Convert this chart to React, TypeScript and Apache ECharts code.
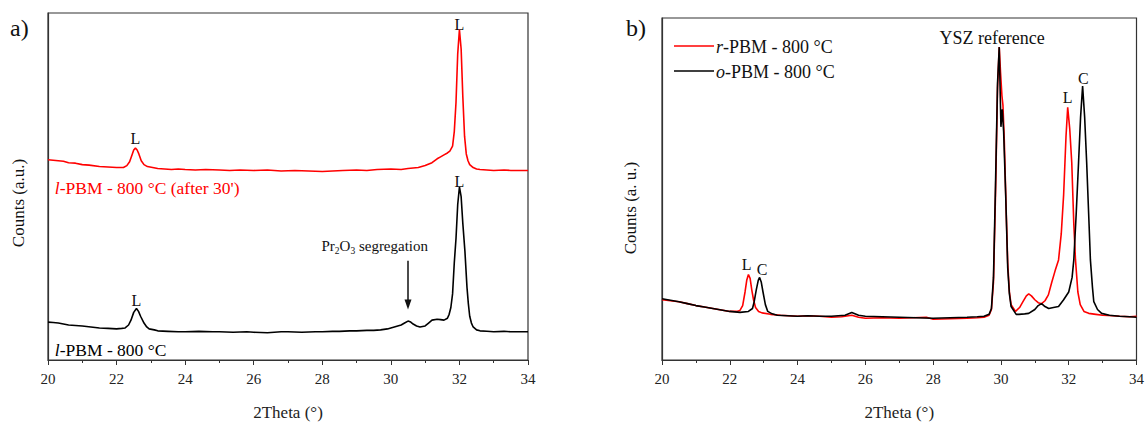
import React, { useEffect, useRef } from "react";
import * as echarts from "echarts";

// ---------- Data (2Theta in degrees, counts in arbitrary units) ----------
const xTicks = [20, 22, 24, 26, 28, 30, 32, 34];

// Panel a) l-PBM - 800 °C (after 30')  (red, offset trace)
const aRed: [number, number][] = [
  [20.0, 206], [20.15, 205.5], [20.3, 205], [20.45, 204.5], [20.6, 203], [20.8, 202.5], [21.0, 201], [21.2, 200.5],
  [21.5, 199], [21.75, 198.5], [22.0, 198], [22.2, 198], [22.3, 200], [22.38, 204], [22.45, 211], [22.5, 216],
  [22.55, 218], [22.6, 216], [22.65, 212], [22.72, 205], [22.8, 201], [22.9, 199], [23.05, 198], [23.2, 197],
  [23.4, 196.5], [23.6, 196], [23.8, 196.5], [24.0, 196], [24.3, 195.5], [24.6, 196], [25.0, 195.5], [25.3, 195],
  [25.6, 195.5], [26.0, 195], [26.4, 195.5], [26.8, 194.5], [27.2, 195], [27.6, 194.5], [28.0, 194], [28.3, 194.5],
  [28.6, 195], [29.0, 195.5], [29.3, 195], [29.6, 196], [30.0, 196.5], [30.3, 196], [30.5, 197], [30.8, 198],
  [31.0, 200], [31.2, 203], [31.35, 207], [31.45, 209], [31.55, 211], [31.65, 213], [31.72, 215], [31.8, 220],
  [31.85, 235], [31.9, 265], [31.95, 315], [32.0, 340], [32.05, 320], [32.1, 270], [32.15, 230], [32.2, 212],
  [32.25, 205], [32.3, 201], [32.4, 198], [32.5, 196.5], [32.6, 196], [32.8, 195.5], [33.0, 195], [33.3, 195.5],
  [33.5, 195], [33.8, 195], [34.0, 195],
];

// Panel a) l-PBM - 800 °C  (black)
const aBlack: [number, number][] = [
  [20.0, 39], [20.15, 38.5], [20.3, 38], [20.45, 37], [20.6, 36], [20.8, 35.5], [21.0, 35], [21.25, 34],
  [21.5, 33], [21.75, 32.5], [22.0, 32], [22.15, 32.5], [22.25, 33], [22.35, 36], [22.42, 41], [22.5, 49],
  [22.58, 53], [22.64, 50], [22.7, 45], [22.8, 38], [22.88, 34], [22.95, 32], [23.1, 31], [23.2, 30],
  [23.5, 29.5], [23.8, 29], [24.0, 29], [24.4, 29.5], [24.8, 29], [25.0, 29], [25.4, 28.5], [25.8, 29],
  [26.0, 28.5], [26.4, 28], [26.8, 29], [27.0, 29], [27.4, 28.5], [27.8, 29], [28.0, 29], [28.3, 29.5],
  [28.5, 29.5], [28.8, 30], [29.0, 30], [29.3, 30.5], [29.5, 30.5], [29.7, 31], [29.9, 32], [30.1, 34],
  [30.3, 36], [30.4, 38], [30.5, 40], [30.58, 39], [30.65, 37], [30.75, 35], [30.85, 34], [31.0, 35],
  [31.1, 38], [31.2, 41], [31.35, 42], [31.45, 41.5], [31.55, 41], [31.65, 43], [31.7, 47], [31.75, 54],
  [31.8, 68], [31.85, 100], [31.9, 125], [31.95, 160], [32.0, 178], [32.05, 168], [32.1, 140], [32.16, 112],
  [32.22, 75], [32.26, 58], [32.3, 45], [32.35, 38], [32.4, 34], [32.5, 31], [32.6, 30], [32.8, 29.5],
  [33.0, 29], [33.3, 29.5], [33.5, 29], [33.8, 29], [34.0, 29],
];

// Panel b) r-PBM - 800 °C (red)
const bRed: [number, number][] = [
  [20.0, 62], [20.25, 61], [20.5, 60], [20.75, 58], [21.0, 56], [21.25, 54.5], [21.5, 53], [21.75, 51.5],
  [22.0, 50], [22.2, 50], [22.3, 51], [22.38, 56], [22.45, 70], [22.5, 82], [22.55, 88], [22.6, 84],
  [22.65, 72], [22.7, 62], [22.76, 54], [22.85, 50], [22.95, 48.5], [23.2, 47], [23.5, 46], [24.0, 45],
  [24.3, 45.5], [24.65, 45], [25.0, 44], [25.3, 44.5], [25.6, 46], [25.8, 44], [26.0, 43], [26.5, 43.5],
  [27.0, 43], [27.4, 43.5], [27.8, 44], [28.0, 42], [28.5, 42.5], [29.0, 43], [29.3, 43.5], [29.5, 44],
  [29.65, 46], [29.72, 52], [29.78, 80], [29.84, 170], [29.9, 280], [29.95, 322], [29.99, 295], [30.03, 272],
  [30.06, 262], [30.1, 225], [30.15, 160], [30.2, 100], [30.25, 70], [30.3, 57], [30.43, 50], [30.55, 54],
  [30.65, 60], [30.75, 66], [30.82, 68], [30.9, 66], [31.0, 62], [31.1, 59], [31.2, 58], [31.3, 61],
  [31.4, 67], [31.5, 80], [31.6, 92], [31.7, 103], [31.78, 130], [31.85, 170], [31.92, 230], [31.97, 260],
  [32.03, 238], [32.09, 203], [32.15, 140], [32.2, 103], [32.27, 70], [32.34, 57], [32.45, 50], [32.59, 48],
  [32.8, 47], [33.0, 46], [33.3, 45.5], [33.5, 45], [33.8, 44.5], [34.0, 45],
];

// Panel b) o-PBM - 800 °C (black)
const bBlack: [number, number][] = [
  [20.0, 63], [20.25, 61.5], [20.5, 60], [20.75, 58], [21.0, 56], [21.25, 54.5], [21.5, 53], [21.75, 51.5],
  [22.0, 50], [22.3, 49], [22.55, 50], [22.67, 53], [22.72, 60], [22.78, 72], [22.84, 82], [22.88, 85],
  [22.93, 80], [22.98, 70], [23.05, 57], [23.12, 50], [23.25, 47.5], [23.4, 46], [23.7, 45.5], [24.0, 45],
  [24.3, 45.5], [24.65, 45], [25.0, 45], [25.4, 46], [25.6, 49], [25.8, 46], [26.0, 45], [26.5, 44.5],
  [27.0, 44], [27.5, 43.5], [28.0, 43], [28.5, 43.5], [29.0, 44], [29.3, 44.5], [29.5, 45], [29.65, 47],
  [29.72, 53], [29.78, 85], [29.84, 180], [29.9, 285], [29.95, 322], [30.0, 240], [30.04, 258], [30.08, 235],
  [30.14, 170], [30.2, 95], [30.25, 68], [30.3, 55], [30.45, 47], [30.53, 47], [30.7, 47.5], [30.82, 48],
  [31.0, 52], [31.1, 56], [31.2, 58], [31.3, 55], [31.41, 53], [31.55, 54], [31.7, 55], [31.85, 62],
  [32.0, 70], [32.1, 85], [32.15, 103], [32.22, 150], [32.29, 203], [32.35, 250], [32.41, 282], [32.47, 250],
  [32.53, 203], [32.6, 140], [32.64, 103], [32.7, 75], [32.74, 60], [32.85, 52], [32.97, 48], [33.2, 46],
  [33.5, 45], [33.8, 44.5], [34.0, 44],
];

// Peak annotations [2Theta, counts, label]
const aPeakLabels: [number, number, string][] = [
  [22.55, 228, "L"],
  [32.0, 345, "L"],
  [22.58, 61, "L"],
  [32.0, 184, "L"],
];
const bPeakLabels: [number, number, string][] = [
  [22.5, 98, "L"],
  [22.95, 93, "C"],
  [31.97, 270, "L"],
  [32.43, 290, "C"],
];
const ySegArrow = { x: 30.5, from: 102, to: 52 };

const SERIF = "'Liberation Serif', 'Times New Roman', serif";
const RED = "#ff0000";
const BLACK = "#000000";

function xAxisFor(gridIndex: number) {
  return {
    type: "value",
    gridIndex,
    min: 20,
    max: 34,
    interval: 2,
    name: "2Theta (°)",
    nameLocation: "middle",
    nameGap: 44,
    nameTextStyle: { fontFamily: SERIF, fontSize: 17, color: "#222" },
    axisLine: { show: true, lineStyle: { color: "#333", width: 1.2 } },
    axisTick: { show: true, inside: false, length: 5, lineStyle: { color: "#333" } },
    minorTick: { show: true, splitNumber: 2, length: 3, lineStyle: { color: "#333" } },
    splitLine: { show: false },
    axisLabel: {
      fontFamily: SERIF,
      fontSize: 15,
      color: "#222",
      margin: 11,
      formatter: (v: number) => (xTicks.includes(v) ? String(v) : ""),
    },
  };
}

function yAxisFor(gridIndex: number, max: number) {
  return {
    type: "value",
    gridIndex,
    min: 0,
    max,
    axisLine: { show: true, lineStyle: { color: "#333", width: 1.2 } },
    axisTick: { show: false },
    axisLabel: { show: false },
    splitLine: { show: false },
  };
}

function lineSeries(name: string, data: [number, number][], color: string, gi: number) {
  return {
    name,
    type: "line",
    xAxisIndex: gi,
    yAxisIndex: gi,
    data,
    showSymbol: false,
    symbol: "none",
    smooth: false,
    lineStyle: { color, width: 1.6 },
    itemStyle: { color },
    silent: true,
  };
}

export default function App() {
  const ref = useRef<HTMLDivElement>(null);
  useEffect(() => {
    document.body.style.margin = "0";
    if (!ref.current) return;
    const chart = echarts.init(ref.current, undefined, { renderer: "svg" });
    chart.setOption({
      animation: false,
      backgroundColor: "#ffffff",
      grid: [
        { left: 48, top: 13, width: 480, height: 357, show: true, borderColor: "#333", borderWidth: 1.2, backgroundColor: "transparent" },
        { left: 662, top: 18, width: 476, height: 352, show: true, borderColor: "#333", borderWidth: 1.2, backgroundColor: "transparent" },
      ],
      xAxis: [xAxisFor(0), xAxisFor(1)],
      yAxis: [yAxisFor(0, 357), yAxisFor(1, 352)],
      series: [
        lineSeries("l-PBM - 800 °C (after 30')", aRed, RED, 0),
        lineSeries("l-PBM - 800 °C", aBlack, BLACK, 0),
        lineSeries("r-PBM - 800 °C", bRed, RED, 1),
        lineSeries("o-PBM - 800 °C", bBlack, BLACK, 1),
      ],
    });

    const pA = (x: number, y: number) => chart.convertToPixel({ gridIndex: 0 }, [x, y]) as number[];
    const pB = (x: number, y: number) => chart.convertToPixel({ gridIndex: 1 }, [x, y]) as number[];

    const txt = (x: number, y: number, text: string, size: number, color = "#111", align = "center", extra: any = {}) => ({
      type: "text",
      x,
      y,
      style: {
        text,
        fontFamily: SERIF,
        fontSize: size,
        fill: color,
        align,
        verticalAlign: "middle",
        ...extra,
      },
      silent: true,
    });

    const elements: any[] = [];
    // panel labels
    elements.push(txt(10, 28, "a)", 24, "#111", "left"));
    elements.push(txt(626, 28, "b)", 24, "#111", "left"));

    // y-axis titles (rotated)
    elements.push({ ...txt(18, 203, "Counts (a.u.)", 17), rotation: Math.PI / 2 });
    elements.push({ ...txt(630, 208, "Counts (a. u.)", 17), rotation: Math.PI / 2 });

    aPeakLabels.forEach(([x, y, t]) => {
      const [px, py] = pA(x, y);
      elements.push(txt(px, py, t, 16));
    });
    bPeakLabels.forEach(([x, y, t]) => {
      const [px, py] = pB(x, y);
      elements.push(txt(px, py, t, 16));
    });

    // trace labels in panel a
    const rich = {
      i: { fontFamily: SERIF, fontStyle: "italic", fontSize: 17.5 },
      n: { fontFamily: SERIF, fontSize: 17.5 },
    };
    {
      const [px, py] = pA(20.2, 177);
      elements.push({
        type: "text", x: px, y: py, silent: true,
        style: { text: "{i|l}{n|-PBM - 800 °C (after 30')}", rich, fill: RED, align: "left", verticalAlign: "middle" },
      });
    }
    {
      const [px, py] = pA(20.2, 10);
      elements.push({
        type: "text", x: px, y: py, silent: true,
        style: { text: "{i|l}{n|-PBM - 800 °C}", rich, fill: BLACK, align: "left", verticalAlign: "middle" },
      });
    }

    // Pr2O3 segregation + arrow
    {
      const [px, py] = pA(29.53, 117);
      elements.push({
        type: "text", x: px, y: py, silent: true,
        style: {
          text: "{n|Pr}{s|2}{n|O}{s|3}{n| segregation}",
          align: "center",
          verticalAlign: "middle",
          fill: "#111",
          rich: {
            n: { fontFamily: SERIF, fontSize: 15 },
            s: { fontFamily: SERIF, fontSize: 9.5, padding: [9, 0, 0, 0] },
          },
        },
      });
      const [ax, ay0] = pA(ySegArrow.x, ySegArrow.from);
      const [, ay1] = pA(ySegArrow.x, ySegArrow.to);
      elements.push({ type: "line", silent: true, shape: { x1: ax, y1: ay0, x2: ax, y2: ay1 - 8 }, style: { stroke: "#111", lineWidth: 1.5 } });
      elements.push({
        type: "polygon", silent: true,
        shape: { points: [[ax - 3.5, ay1 - 10], [ax + 3.5, ay1 - 10], [ax, ay1]] },
        style: { fill: "#111" },
      });
    }

    // YSZ reference label
    {
      const [px, py] = pB(29.74, 331);
      elements.push(txt(px, py, "YSZ reference", 18));
    }

    // legend in panel b
    const legendRich = {
      i: { fontFamily: SERIF, fontStyle: "italic", fontSize: 18 },
      n: { fontFamily: SERIF, fontSize: 18 },
    };
    const legendItems: [string, string, number][] = [["r", RED, 46], ["o", BLACK, 71]];
    legendItems.forEach(([letter, color, y]) => {
      elements.push({ type: "line", silent: true, shape: { x1: 674, y1: y, x2: 714, y2: y }, style: { stroke: color, lineWidth: 1.6 } });
      elements.push({
        type: "text", x: 716, y: y + 1, silent: true,
        style: { text: `{i|${letter}}{n|-PBM - 800 °C}`, rich: legendRich, fill: "#111", align: "left", verticalAlign: "middle" },
      });
    });

    chart.setOption({ graphic: { elements } });

    return () => {
      chart.dispose();
    };
  }, []);
  return <div ref={ref} style={{ width: 1147, height: 426 }} />;
}
